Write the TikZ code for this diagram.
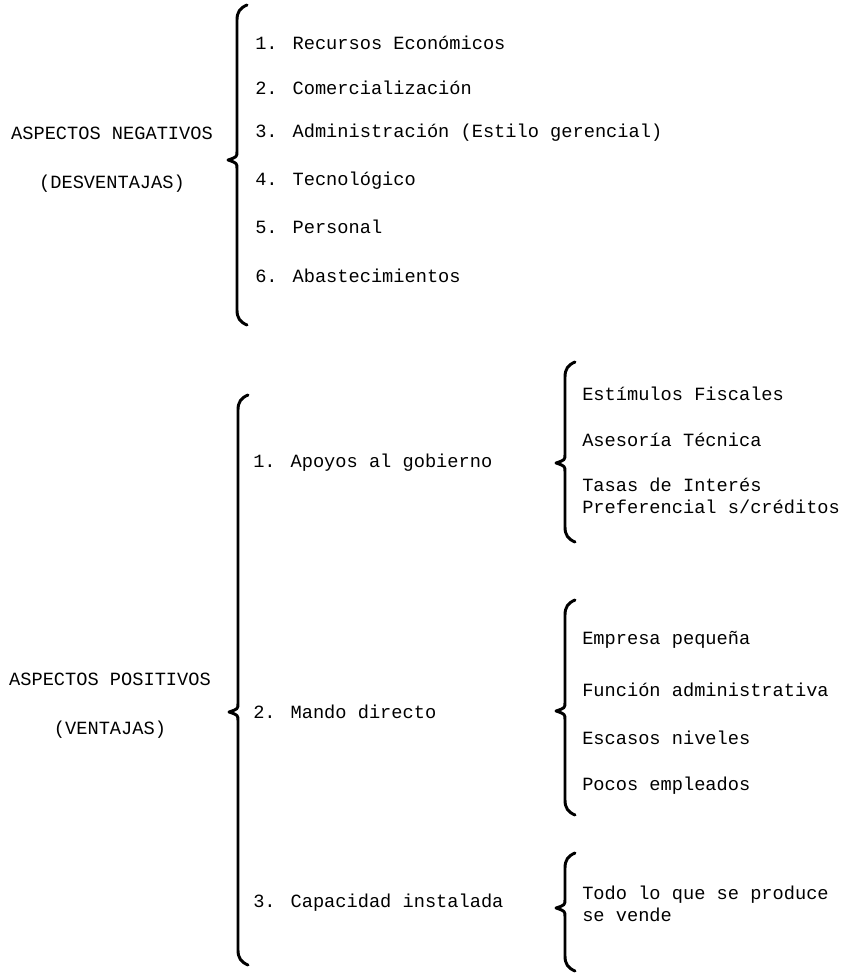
\documentclass[tikz,border=0pt]{standalone}
\usepackage{fontspec}
\setmainfont{Liberation Mono}
\usepackage{tikz}
\usetikzlibrary{positioning}

% tall curly bracket: x, top, tip, bottom (pixel units, y downwards)
\newcommand{\curlybrace}[4]{%
  \draw[curly] (#1+10,#2) .. controls (#1+3,#2+3) and (#1,#2+7) .. (#1,#2+15)
    -- (#1,#3-9) .. controls (#1,#3-3) .. (#1-9,#3)
    .. controls (#1,#3+3) .. (#1,#3+9)
    -- (#1,#4-15) .. controls (#1,#4-7) and (#1+3,#4-3) .. (#1+10,#4);}

\begin{document}
\begin{tikzpicture}[x=0.75pt, y=-0.75pt,
    every node/.style={font=\fontsize{14}{16.5}\selectfont},
    head/.style={inner sep=0pt, align=center, text height=10pt, text depth=3pt},
    item/.style={inner sep=0pt, anchor=west, align=left},
    curly/.style={line width=2.2pt, line cap=round, line join=round}]
		\useasboundingbox (0,0) rectangle (854,974);

		% negative aspects
		\node (neg) [head] at (112,135) {ASPECTOS NEGATIVOS};
		\node (desv) [head, below=23pt of neg] {(DESVENTAJAS)};
		\curlybrace{237}{5}{160}{325}
		\node (rec) [item] at (255,43) {1. Recursos Económicos};
		\node (com) [item] at (255,88) {2. Comercialización};
		\node (adm) [item] at (255,133) {3. Administración (Estilo gerencial)};
		\node (tec) [item] at (255,181) {4. Tecnológico};
		\node (per) [item] at (255,227) {5. Personal};
		\node (aba) [item] at (255,276) {6. Abastecimientos};

		% positive aspects
		\node (pos) [head] at (110,681) {ASPECTOS POSITIVOS};
		\node (vent) [head, below=23pt of pos] {(VENTAJAS)};
		\curlybrace{238}{395}{712}{965}
		\node (apo) [item] at (253,463) {1. Apoyos al gobierno};
		\node (man) [item] at (253,712) {2. Mando directo};
		\node (cap) [item] at (253,903) {3. Capacidad instalada};

		\curlybrace{565}{362}{463}{542}
		\node (est) [item] at (582,394) {Estímulos Fiscales};
		\node (ase) [item] at (582,440) {Asesoría Técnica};
		\node (tas) [item] at (582,496) {Tasas de Interés\\Preferencial s/créditos};

		\curlybrace{565}{600}{711}{815}
		\node (emp) [item] at (582,640) {Empresa pequeña};
		\node (fun) [item] at (582,690) {Función administrativa};
		\node (esc) [item] at (582,738) {Escasos niveles};
		\node (poc) [item] at (582,786) {Pocos empleados};

		\curlybrace{565}{853}{908}{971}
		\node (tod) [item] at (582,904) {Todo lo que se produce\\se vende};

	\end{tikzpicture}
\end{document}
